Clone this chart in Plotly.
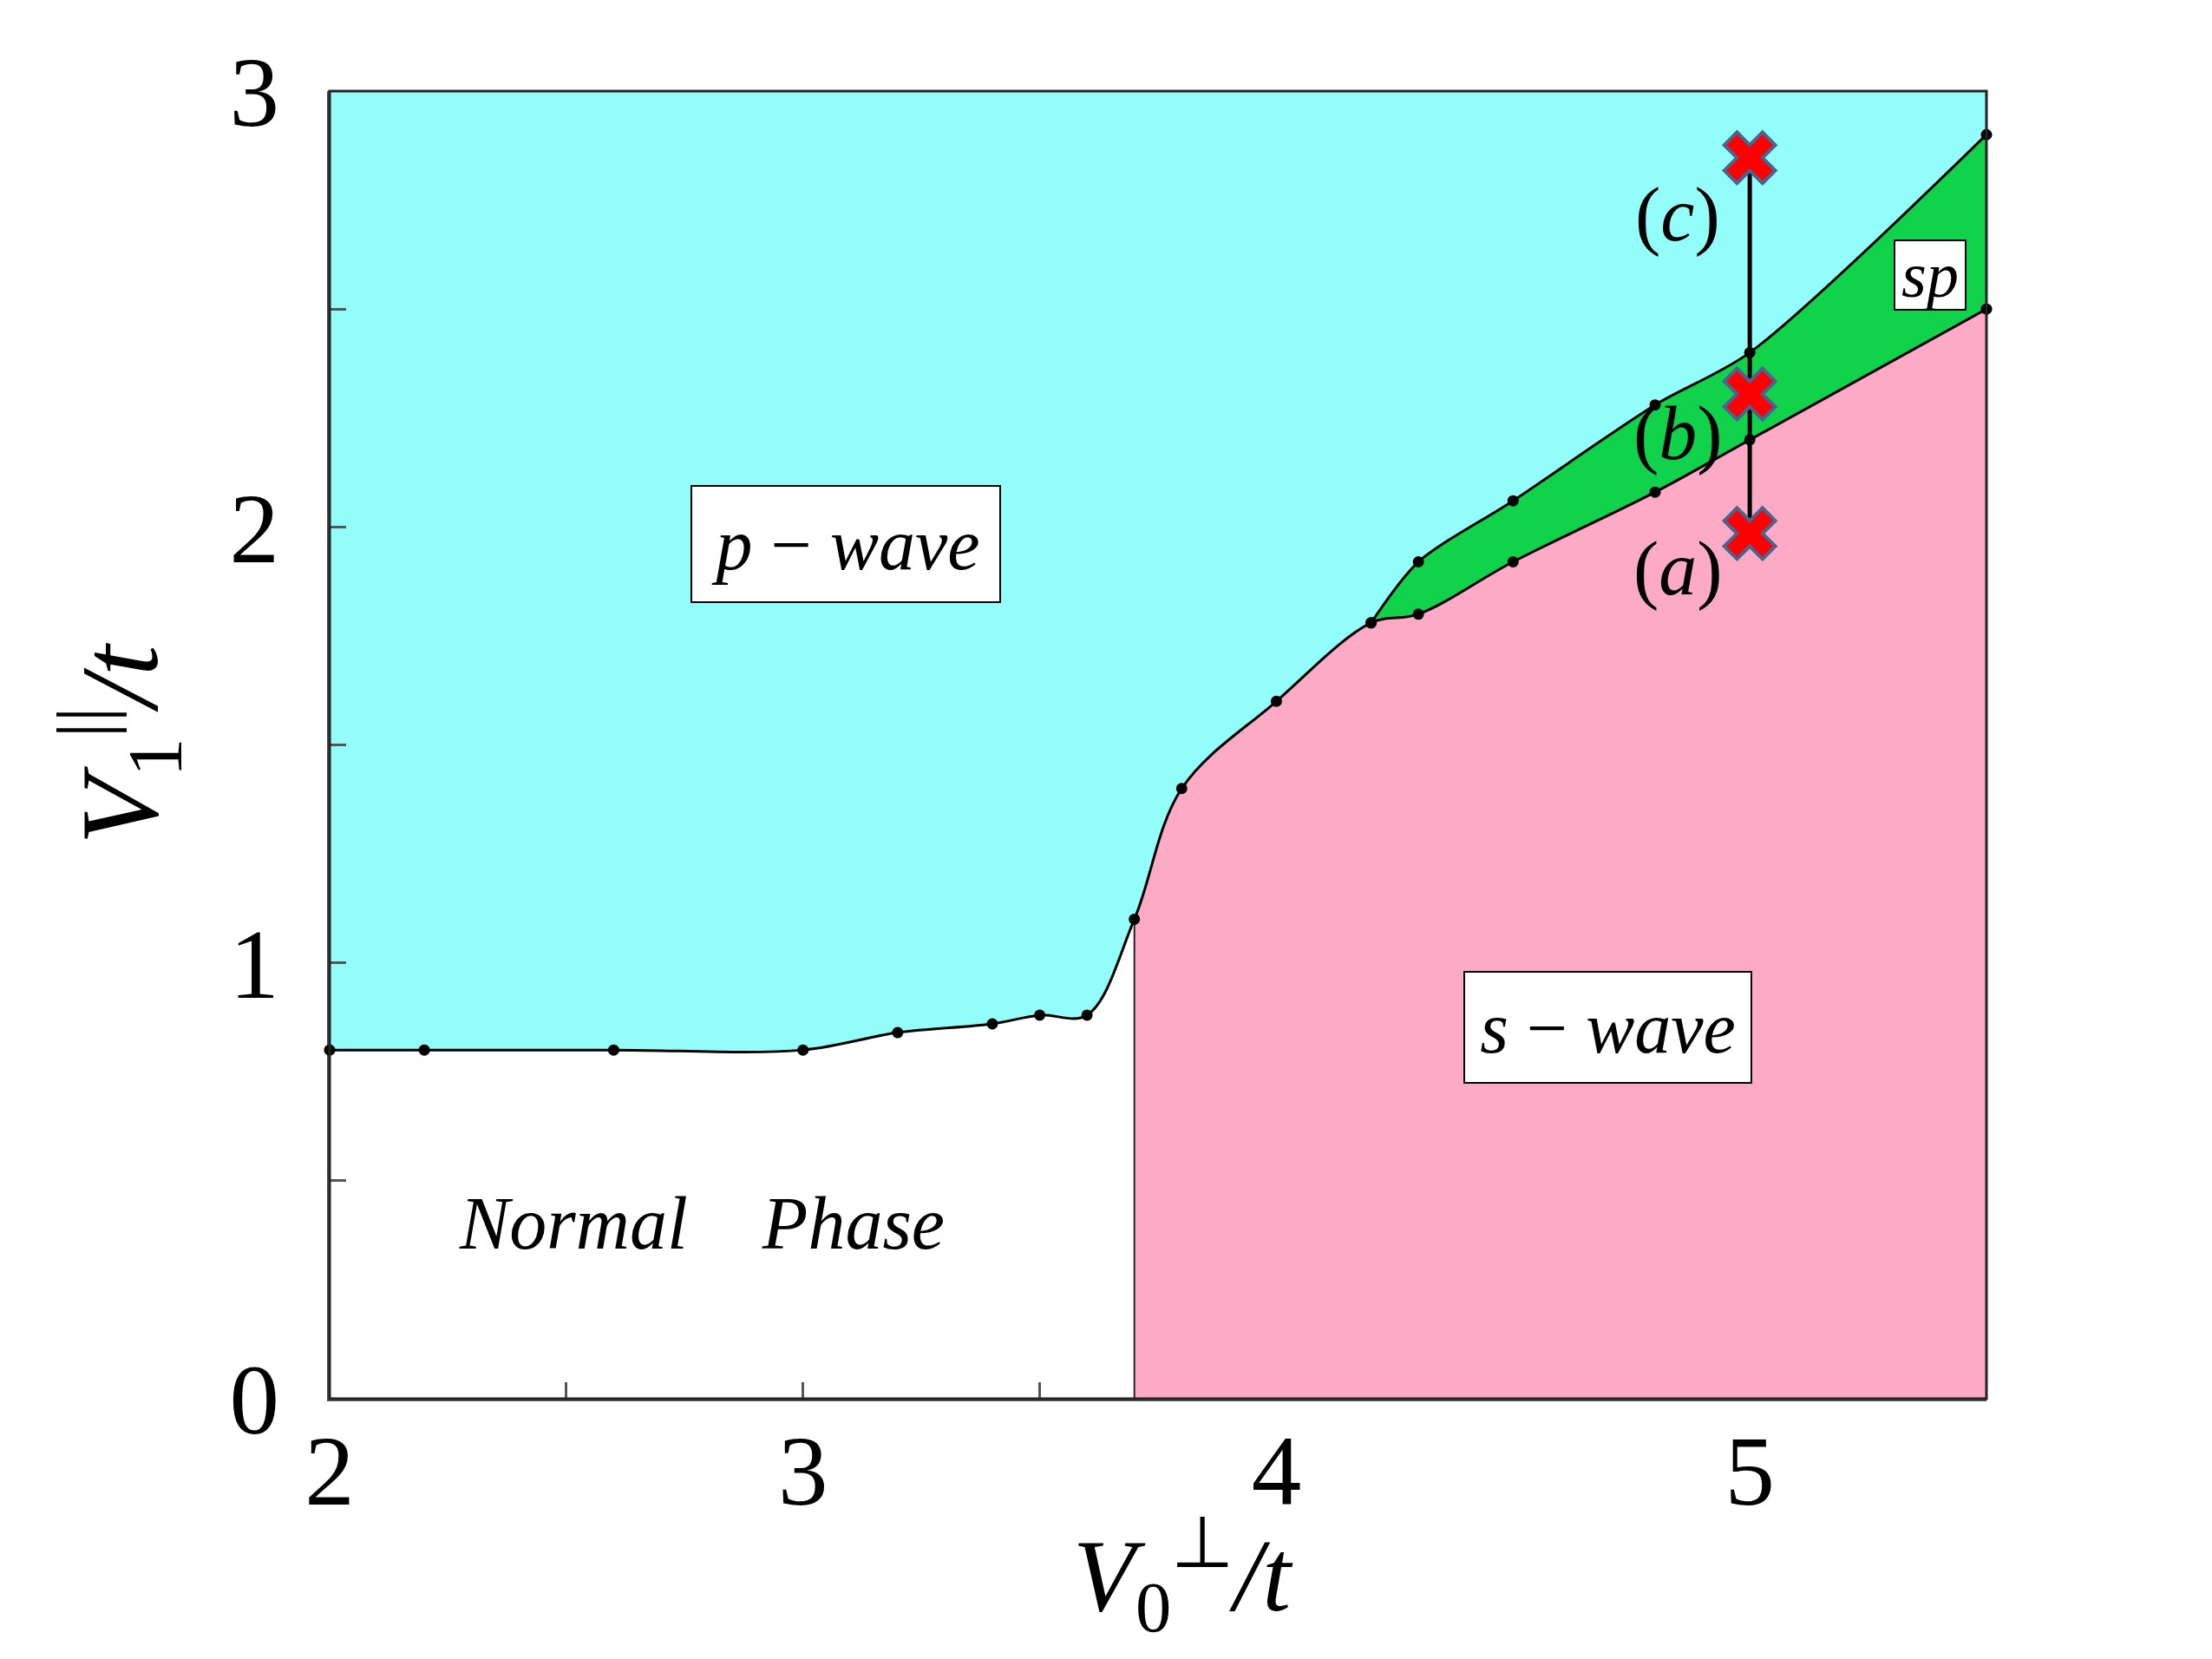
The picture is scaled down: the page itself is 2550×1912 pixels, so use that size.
import plotly.graph_objects as go

# фазовая граница normal/p -> s -> нижняя граница sp
main_x = [2.0, 2.2, 2.6, 3.0, 3.2, 3.4, 3.5, 3.6, 3.7, 3.8, 4.0, 4.2, 4.3, 4.5, 4.8, 5.0, 5.5]
main_y = [0.80, 0.80, 0.80, 0.80, 0.84, 0.86, 0.88, 0.88, 1.10, 1.40, 1.60, 1.78, 1.80, 1.92, 2.08, 2.20, 2.50]

# верхняя граница sp (ответвляется в 4.2)
upper_x = [4.2, 4.3, 4.5, 4.8, 5.0, 5.5]
upper_y = [1.78, 1.92, 2.06, 2.28, 2.40, 2.90]

s_onset_x = 3.7  # вертикальная граница s-wave

# разрез при V0 = 5
cut_x = 5.0
cut_y = [1.985, 2.305, 2.847]
cut_labels = ["(<i>a</i>)", "(<i>b</i>)", "(<i>c</i>)"]
cut_label_x = 4.848
cut_label_y = [1.904, 2.214, 2.716]

phase_labels = ["<i>p</i> − <i>wave</i>", "<i>s</i> − <i>wave</i>", "<i>sp</i>"]
phase_x = [3.09, 4.70, 5.38]
phase_y = [1.96, 0.853, 2.577]
normal_label = "<i>Normal</i>\u00a0\u00a0\u00a0\u00a0<i>Phase</i>"
normal_x, normal_y = 2.786, 0.402

x_title = "<i>V</i><sub>0</sub><sup>⊥</sup><i>/t</i>"
y_title = "<i>V</i><sub>1</sub><sup>||</sup><i>/t</i>"

x_range = [2.0, 5.5]
y_range = [0.0, 3.0]
x_ticks = [2, 2.5, 3, 3.5, 4, 4.5, 5]
x_tick_text = ["2", "", "3", "", "4", "", "5"]
y_ticks = [0, 0.5, 1, 1.5, 2, 2.5, 3]
y_tick_text = ["0", "", "1", "", "2", "", "3"]

CYAN = "#93fdfa"
GREEN = "#10d34b"
PINK = "#fdaac6"
FONT = "Liberation Serif"

s_idx = main_x.index(s_onset_x)

fig = go.Figure()

# фон p-wave
fig.add_trace(go.Scatter(x=x_range, y=[y_range[1], y_range[1]], mode="lines",
                         line=dict(width=0), fill="tozeroy", fillcolor=CYAN))
# sp область
fig.add_trace(go.Scatter(x=upper_x, y=upper_y, mode="lines",
                         line=dict(width=0, shape="spline", smoothing=0.8, simplify=False),
                         fill="tozeroy", fillcolor=GREEN))
# normal phase (белый)
fig.add_trace(go.Scatter(x=main_x, y=main_y, mode="lines",
                         line=dict(width=0, shape="spline", simplify=False),
                         fill="tozeroy", fillcolor="white"))
# s-wave: та же кривая, обрезанная осью x2 справа от 3.7
fig.add_trace(go.Scatter(x=main_x, y=main_y, mode="lines", xaxis="x2",
                         line=dict(width=0, shape="spline", simplify=False),
                         fill="tozeroy", fillcolor=PINK))

# линии и точки поверх заливки
fig.add_trace(go.Scatter(x=[s_onset_x, s_onset_x], y=[y_range[0], main_y[s_idx]], xaxis="x3",
                         mode="lines", line=dict(color="#222", width=2)))
fig.add_trace(go.Scatter(x=main_x, y=main_y, xaxis="x3", mode="lines+markers", cliponaxis=False,
                         line=dict(color="black", width=3, shape="spline", simplify=False),
                         marker=dict(color="black", size=13)))
fig.add_trace(go.Scatter(x=upper_x, y=upper_y, xaxis="x3", mode="lines+markers", cliponaxis=False,
                         line=dict(color="black", width=3, shape="spline", smoothing=0.8,
                                   simplify=False),
                         marker=dict(color="black", size=13)))
fig.add_trace(go.Scatter(x=[cut_x] * len(cut_y), y=cut_y, xaxis="x3", mode="lines",
                         line=dict(color="black", width=5)))
fig.add_trace(go.Scatter(x=[cut_x] * len(cut_y), y=cut_y, xaxis="x3", mode="markers",
                         cliponaxis=False,
                         marker=dict(symbol="x", size=52, color="#ff0000",
                                     line=dict(color="#4a6490", width=4))))

for txt, yy in zip(cut_labels, cut_label_y):
    fig.add_annotation(x=cut_label_x, y=yy, xref="x3", yref="y", text=txt, showarrow=False,
                       font=dict(family=FONT, size=88, color="black"))

box_w = [330, 305, 80]
box_h = [108, 102, 78]
box_pad = [12, 12, 0]
for txt, xx, yy, w, h, p in zip(phase_labels, phase_x, phase_y, box_w, box_h, box_pad):
    fig.add_annotation(x=xx, y=yy, xref="x3", yref="y", text=txt, showarrow=False,
                       width=w, height=h, bgcolor="white", bordercolor="black",
                       borderwidth=2, borderpad=p,
                       font=dict(family=FONT, size=84 if p else 74, color="black"))

fig.add_annotation(x=normal_x, y=normal_y, xref="x3", yref="y", text=normal_label,
                   showarrow=False, font=dict(family=FONT, size=86, color="black"))

# подпись оси x отдельной аннотацией, чтобы не упиралась в нижний край
fig.add_annotation(x=0.515, y=-0.135, xref="paper", yref="paper", text=x_title,
                   showarrow=False, xanchor="center", yanchor="middle",
                   font=dict(family=FONT, size=118, color="black"))

axis_style = dict(showgrid=False, zeroline=False, showline=True, linecolor="#555", linewidth=3,
                  ticks="inside", ticklen=19, tickwidth=3, tickcolor="#555",
                  tickfont=dict(family=FONT, size=115, color="black"))

fig.update_layout(
    width=2550, height=1912,
    margin=dict(l=372, r=268, t=97, b=308),
    paper_bgcolor="white",
    plot_bgcolor="rgba(0,0,0,0)",
    showlegend=False,
    xaxis=dict(domain=[0, 1], range=x_range, tickvals=x_ticks, ticktext=x_tick_text,
               ticklabelstandoff=-19, **axis_style),
    xaxis2=dict(domain=[(s_onset_x - x_range[0]) / (x_range[1] - x_range[0]), 1],
                range=[s_onset_x, x_range[1]], anchor="y", visible=False),
    xaxis3=dict(domain=[0, 1], range=x_range, anchor="y", visible=False),
    yaxis=dict(range=y_range, tickvals=y_ticks, ticktext=y_tick_text,
               ticklabelstandoff=32,
               title=dict(text=y_title, standoff=40,
                          font=dict(family=FONT, size=128, color="black")),
               **axis_style),
    shapes=[dict(type="rect", xref="paper", yref="paper", x0=0, x1=1, y0=0, y1=1,
                 layer="above", line=dict(color="#222", width=3))],
)

fig.write_html("out.html")
